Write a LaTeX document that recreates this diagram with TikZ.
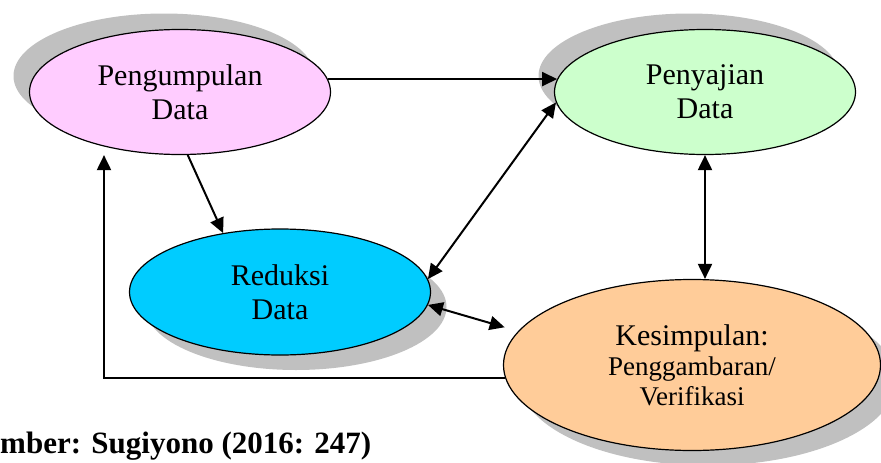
\documentclass[tikz,border=0pt]{standalone}
\usepackage{fontspec}
\setmainfont{Liberation Serif}
\usetikzlibrary{shapes.geometric,shadows,arrows.meta}

\definecolor{pinkfill}{HTML}{FFCCFF}
\definecolor{greenfill}{HTML}{CCFFCC}
\definecolor{cyanfill}{HTML}{00CCFF}
\definecolor{orangefill}{HTML}{FFCC99}
\definecolor{shadowgray}{HTML}{C0C0C0}

\begin{document}
\begin{tikzpicture}[x=1pt,y=-1pt,
		oval/.style={ellipse,draw,line width=1.2pt,inner sep=0pt,align=center,
			font=\fontsize{30}{34}\selectfont,minimum width=301pt,minimum height=125pt},
		upleft/.style={drop shadow={shadow xshift=-16pt,shadow yshift=16pt,fill=shadowgray,opacity=1}},
		downright/.style={drop shadow={shadow xshift=16pt,shadow yshift=-15pt,fill=shadowgray,opacity=1}},
		arr/.style={line width=2pt,-{Triangle[length=15pt,width=14pt]}},
		dbl/.style={line width=2pt,{Triangle[length=15pt,width=14pt]}-{Triangle[length=15pt,width=14pt]}}]

			\useasboundingbox (0,0) rectangle (881,463);

			\node[oval,upleft,fill=pinkfill] (P) at (180,92) {Pengumpulan\\Data};
			\node[oval,upleft,fill=greenfill] (S) at (705,92) {Penyajian\\Data};
			\node[oval,downright,fill=cyanfill,minimum height=126pt] (R) at (280,292) {Reduksi\\Data};
			\node[oval,downright,fill=orangefill,minimum width=377pt,minimum height=171pt,
				font=\fontsize{27}{30}\selectfont] (K) at (692,365)
				{{\fontsize{30}{30}\selectfont Kesimpulan:}\\Penggambaran/\\Verifikasi};

			\coordinate (F) at (K.184.7 -| 104,0);

			\draw[arr] (P.5) -- (S.175);
			\draw[arr] (P.-83) -- (R.134);
			\draw[dbl] (R.5) -- (S.184.5);
			\draw[dbl,shorten >=14pt] (R.-5) -- (K.169);
			\draw[dbl] (S.south) -- (S.south |- K.north);
			\draw[arr] (K.184.7) -- (F) -- (F |- P.south);

			\node[anchor=base west,inner sep=0pt,font=\fontsize{31}{34}\selectfont\bfseries] (src) at (0,453) {mber: Sugiyono (2016: 247)};
		\end{tikzpicture}
\end{document}
